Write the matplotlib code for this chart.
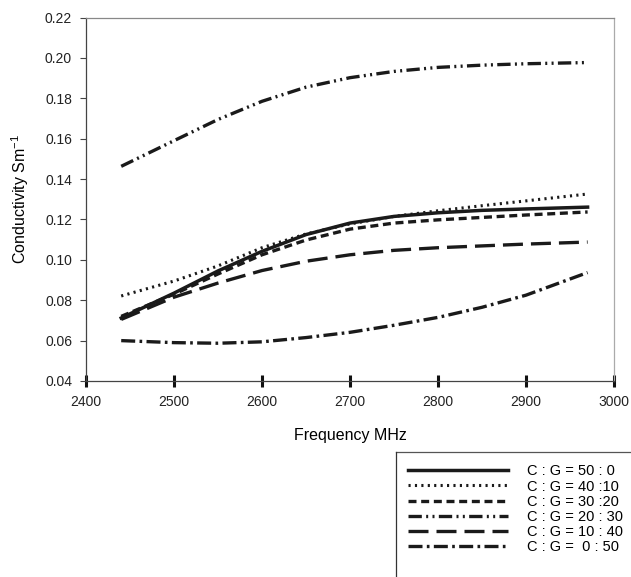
import matplotlib
matplotlib.use("Agg")
from matplotlib import pyplot as plt
from matplotlib.lines import Line2D

plt.rcParams['font.family'] = ['Liberation Sans', 'DejaVu Sans']

freq = [2440, 2500, 2550, 2600, 2650, 2700, 2750, 2800, 2850, 2900, 2970]

cg50_0 = [0.0712, 0.0835, 0.0945, 0.1042, 0.1125, 0.1182, 0.1215, 0.1233, 0.1245, 0.1252, 0.1261]
cg40_10 = [0.0821, 0.0895, 0.0970, 0.1060, 0.1128, 0.1178, 0.1215, 0.1243, 0.1268, 0.1292, 0.1326]
cg30_20 = [0.0720, 0.0830, 0.0930, 0.1025, 0.1098, 0.1152, 0.1182, 0.1198, 0.1210, 0.1222, 0.1237]
cg20_30 = [0.1463, 0.1590, 0.1695, 0.1785, 0.1855, 0.1902, 0.1933, 0.1953, 0.1964, 0.1971, 0.1977]
cg10_40 = [0.0705, 0.0815, 0.0885, 0.0947, 0.0993, 0.1025, 0.1047, 0.1060, 0.1069, 0.1078, 0.1088]
cg0_50 = [0.0600, 0.0590, 0.0587, 0.0594, 0.0615, 0.0641, 0.0676, 0.0715, 0.0765, 0.0825, 0.0937]

labels = ["C : G = 50 : 0", "C : G = 40 :10", "C : G = 30 :20",
          "C : G = 20 : 30", "C : G = 10 : 40", "C : G =  0 : 50"]

fig = plt.figure(figsize=(6.31, 5.77), dpi=100)
ax = fig.add_axes([86/631, 1-381/577, 528/631, 363.5/577])

c = '#1a1a1a'
ax.plot(freq, cg50_0, color=c, lw=2.5, ls='-', label=labels[0])
ax.plot(freq, cg40_10, color=c, lw=2.2, ls=(0, (0.7, 1.4)), label=labels[1])
ax.plot(freq, cg30_20, color=c, lw=2.4, ls=(0, (2.4, 1.4)), label=labels[2])
ax.plot(freq, cg20_30, color=c, lw=2.4, ls=(0, (4, 1.3, 0.6, 1.3, 0.6, 1.3)), label=labels[3])
ax.plot(freq, cg10_40, color=c, lw=2.4, ls=(0, (6, 2.4)), label=labels[4])
ax.plot(freq, cg0_50, color=c, lw=2.4, ls=(0, (4.2, 1.3, 0.8, 1.3)), label=labels[5])

ax.set_xlim(2400, 3000)
ax.set_ylim(0.04, 0.22)
ax.set_xticks(range(2400, 3001, 100))
ax.set_yticks([0.04, 0.06, 0.08, 0.10, 0.12, 0.14, 0.16, 0.18, 0.20, 0.22])
ax.yaxis.set_major_formatter(matplotlib.ticker.FormatStrFormatter('%.2f'))
ax.tick_params(axis='both', labelsize=10, labelcolor='#222222')
ax.tick_params(axis='y', direction='out', length=4, width=0.8, pad=6, color='#444444')
ax.tick_params(axis='x', direction='inout', width=2.2, length=8, pad=6, color='#111111')
ax.spines['left'].set_color('#444444')
ax.spines['bottom'].set_color('#444444')
ax.spines['top'].set_color('#888888')
ax.spines['right'].set_color('#aaaaaa')
for s in ax.spines.values():
    s.set_linewidth(0.9)

ax.set_xlabel("Frequency MHz", fontsize=11.5, labelpad=14)
ax.set_ylabel("Conductivity Sm$^{\\mathregular{-1}}$", fontsize=11.5, labelpad=10)

leg = fig.legend(loc='upper left', bbox_to_anchor=(396/631, 1-452/577),
                 fontsize=10.5, handlelength=6.8, frameon=False,
                 borderaxespad=0, labelspacing=0.08,
                 handletextpad=1.35, borderpad=0.85)

# legend box: top and left edges only, the rest runs off the figure
fig.add_artist(Line2D([396/631, 1.0], [1-452/577, 1-452/577], color='#555555', lw=0.9))
fig.add_artist(Line2D([396/631, 396/631], [1-452/577, 0.0], color='#333333', lw=0.9))

fig.savefig("out.png", dpi=100)
